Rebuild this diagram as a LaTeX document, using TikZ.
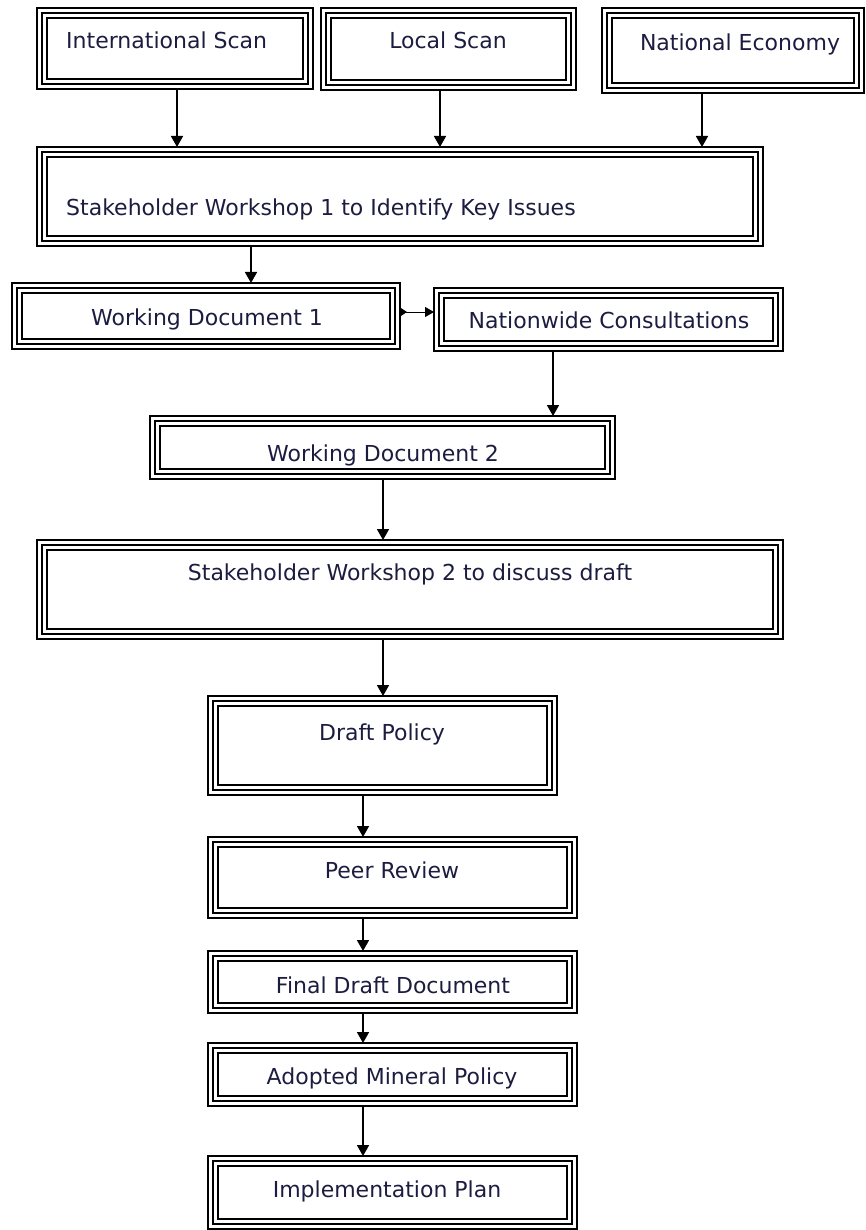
\documentclass[tikz,border=0pt]{standalone}
\usepackage{fontspec}
\setmainfont{DejaVu Sans}
\usetikzlibrary{arrows.meta}
\definecolor{txtc}{RGB}{28,28,64}
\newcommand\tribox[1]{%
  \draw[line width=1.6pt] ([shift={(4.8pt,-4.8pt)}]#1.north west) rectangle ([shift={(-4.8pt,4.8pt)}]#1.south east);
  \draw[line width=2.3pt] ([shift={(9.8pt,-9.8pt)}]#1.north west) rectangle ([shift={(-9.8pt,9.8pt)}]#1.south east);}
\begin{document}
\begin{tikzpicture}[x=1pt,y=-1pt,
  box/.style={draw, rectangle, line width=1.6pt, inner sep=0pt, outer sep=0pt},
  txt/.style={font=\fontsize{22}{26}\selectfont, text=txtc, inner sep=0pt, anchor=base},
  arr/.style={line width=1.7pt, -{Triangle[length=11pt,width=12pt]}}]
\useasboundingbox (0,0) rectangle (866,1230);
% boxes
\node[box, minimum width=276pt, minimum height=81pt] (is) at (175,48.5) {}; \tribox{is}
\node[box, minimum width=255pt, minimum height=82pt] (ls) at (448.5,49) {}; \tribox{ls}
\node[box, minimum width=262pt, minimum height=85pt] (ne) at (733,50.5) {}; \tribox{ne}
\node[box, minimum width=726pt, minimum height=99pt] (sw1) at (400,196.5) {}; \tribox{sw1}
\node[box, minimum width=388pt, minimum height=66pt] (wd1) at (206,316) {}; \tribox{wd1}
\node[box, minimum width=349pt, minimum height=63pt] (nc) at (608.5,319.5) {}; \tribox{nc}
\node[box, minimum width=465pt, minimum height=63pt] (wd2) at (382.5,447.5) {}; \tribox{wd2}
\node[box, minimum width=746pt, minimum height=99pt] (sw2) at (410,589.5) {}; \tribox{sw2}
\node[box, minimum width=349pt, minimum height=99pt] (dp) at (382.5,745.5) {}; \tribox{dp}
\node[box, minimum width=369pt, minimum height=81pt] (pr) at (392.5,877.5) {}; \tribox{pr}
\node[box, minimum width=369pt, minimum height=62pt] (fd) at (392.5,982) {}; \tribox{fd}
\node[box, minimum width=369pt, minimum height=63pt] (ad) at (392.5,1074.5) {}; \tribox{ad}
\node[box, minimum width=369pt, minimum height=73pt] (ip) at (392.5,1192.5) {}; \tribox{ip}
% texts
\node[txt, anchor=base west] (ist) at (66,49) {International Scan};
\node[txt] (lst) at (448,49) {Local Scan};
\node[txt] (net) at (740,51) {National Economy};
\node[txt, anchor=base west] (sw1t) at (66,216) {Stakeholder Workshop 1 to Identify Key Issues};
\node[txt] (wd1t) at (207,325) {Working Document 1};
\node[txt] (nct) at (609,328) {Nationwide Consultations};
\node[txt] (wd2t) at (383,461) {Working Document 2};
\node[txt] (sw2t) at (410,580) {Stakeholder Workshop 2 to discuss draft};
\node[txt] (dpt) at (382,740) {Draft Policy};
\node[txt] (prt) at (392,878) {Peer Review};
\node[txt] (fdt) at (393,993) {Final Draft Document};
\node[txt] (adt) at (392,1084) {Adopted Mineral Policy};
\node[txt] (ipt) at (387,1197) {Implementation Plan};
% column coordinates
\coordinate (c1) at (177,0);
\coordinate (c2) at (440,0);
\coordinate (c3) at (702,0);
\coordinate (c4) at (251,0);
\coordinate (c5) at (553,0);
\coordinate (c6) at (383,0);
\coordinate (c7) at (363,0);
\coordinate (r1) at (0,312);
% connectors
\draw[arr] (is.south -| c1) -- (sw1.north -| c1);
\draw[arr] (ls.south -| c2) -- (sw1.north -| c2);
\draw[arr] (ne.south -| c3) -- (sw1.north -| c3);
\draw[arr] (sw1.south -| c4) -- (wd1.north -| c4);
\draw[line width=0.9pt, {Triangle[reversed,length=7pt,width=9pt]}-{Triangle[length=9pt,width=10pt]}] (wd1.east |- r1) -- (nc.west |- r1);
\draw[arr] (nc.south -| c5) -- (wd2.north -| c5);
\draw[arr] (wd2.south -| c6) -- (sw2.north -| c6);
\draw[arr] (sw2.south -| c6) -- (dp.north -| c6);
\draw[arr] (dp.south -| c7) -- (pr.north -| c7);
\draw[arr] (pr.south -| c7) -- (fd.north -| c7);
\draw[arr] (fd.south -| c7) -- (ad.north -| c7);
\draw[arr] (ad.south -| c7) -- (ip.north -| c7);
\end{tikzpicture}
\end{document}
